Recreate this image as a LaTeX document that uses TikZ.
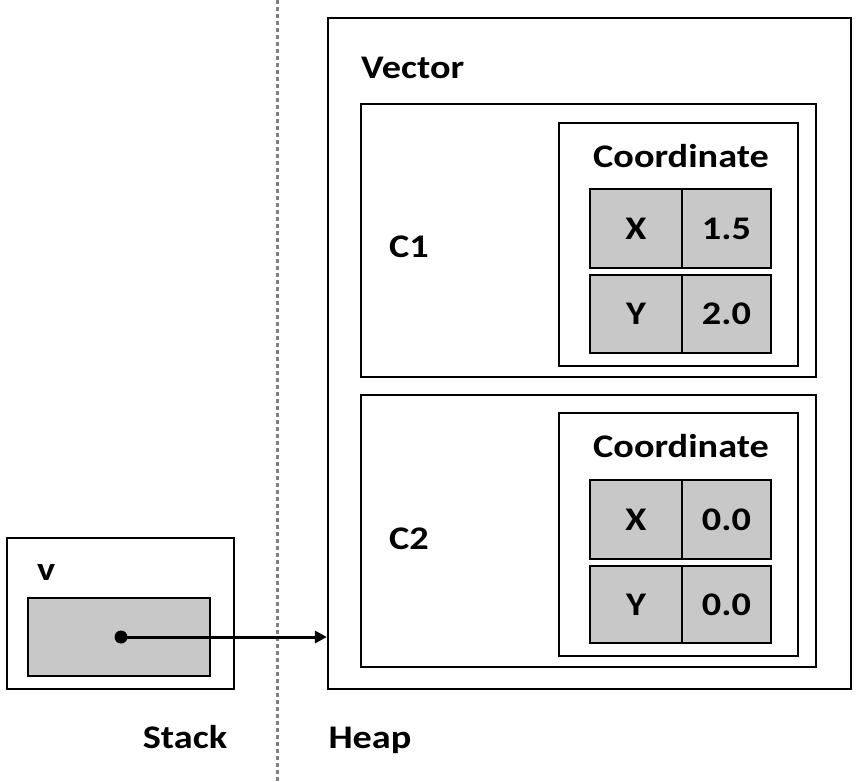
\documentclass[tikz,border=0pt]{standalone}
\usepackage{fontspec}
\setmainfont{Carlito}
\usetikzlibrary{arrows.meta}
\definecolor{cellgray}{HTML}{C8C8C8}
\definecolor{dashgray}{HTML}{808080}
\newcommand{\wt}[1]{\scalebox{1.16}[1]{#1}}
\tikzset{
  box/.style={draw=black, line width=2.2pt, inner sep=0pt, fill=white},
  cell/.style={draw=black, line width=1.8pt, fill=cellgray, inner sep=0pt, minimum height=79pt, font=\fontsize{33}{38}\selectfont\bfseries},
  lbl/.style={inner sep=0pt, font=\fontsize{33}{38}\selectfont\bfseries},
}
\begin{document}
\begin{tikzpicture}[x=1pt,y=-1pt]
\useasboundingbox (0,0) rectangle (860,782);
% divider
\coordinate (dtop) at (277,0);
\coordinate (dbot) at (277,782);
\draw[dashgray, line width=3pt, dash pattern=on 4pt off 3pt] (dtop) -- (dbot);
% stack
\node[box, minimum width=227pt, minimum height=151pt] (stackbox) at (120.5,613.5) {};
\node[lbl, anchor=base west] (vlbl) at (37,580) {\wt{v}};
\node[box, fill=cellgray, minimum width=182pt, minimum height=78pt] (vcell) at (119,637) {};
\node[circle, fill=black, inner sep=0pt, minimum size=13pt] (dot) at (121,637) {};
% heap
\node[box, minimum width=523pt, minimum height=671pt] (heap) at (589.5,353.5) {};
\node[lbl, anchor=base west] (vec) at (361,78) {\wt{Vector}};
% C1
\node[box, minimum width=455pt, minimum height=273pt] (c1) at (588.5,240.5) {};
\node[lbl, anchor=base west] (c1lbl) at (389,257) {\wt{C1}};
\node[box, minimum width=239pt, minimum height=243pt] (co1) at (678.5,244.5) {};
\node[lbl, anchor=base] (co1lbl) at (681,167) {\wt{Coordinate}};
\node[cell, minimum width=92pt] (x1) at (636,228.5) {\wt{X}};
\node[cell, minimum width=89pt] (x1v) at (726.5,228.5) {\wt{1.5}};
\node[cell, minimum width=92pt, minimum height=78pt] (y1) at (636,314) {\wt{Y}};
\node[cell, minimum width=89pt, minimum height=78pt] (y1v) at (726.5,314) {\wt{2.0}};
% C2
\node[box, minimum width=455pt, minimum height=272pt] (c2) at (588.5,531) {};
\node[lbl, anchor=base west] (c2lbl) at (389,549) {\wt{C2}};
\node[box, minimum width=239pt, minimum height=243pt] (co2) at (678.5,534.5) {};
\node[lbl, anchor=base] (co2lbl) at (681,457) {\wt{Coordinate}};
\node[cell, minimum width=92pt] (x2) at (636,519.5) {\wt{X}};
\node[cell, minimum width=89pt] (x2v) at (726.5,519.5) {\wt{0.0}};
\node[cell, minimum width=92pt, minimum height=77pt] (y2) at (636,604.5) {\wt{Y}};
\node[cell, minimum width=89pt, minimum height=77pt] (y2v) at (726.5,604.5) {\wt{0.0}};
% arrow
\draw[line width=3pt, -{Triangle[length=12pt,width=12pt]}] (dot.center) -- (heap.west |- dot);
% labels
\node[lbl, anchor=base] (stacklbl) at (185,748) {\wt{Stack}};
\node[lbl, anchor=base] (heaplbl) at (370,748) {\wt{Heap}};
\end{tikzpicture}
\end{document}
